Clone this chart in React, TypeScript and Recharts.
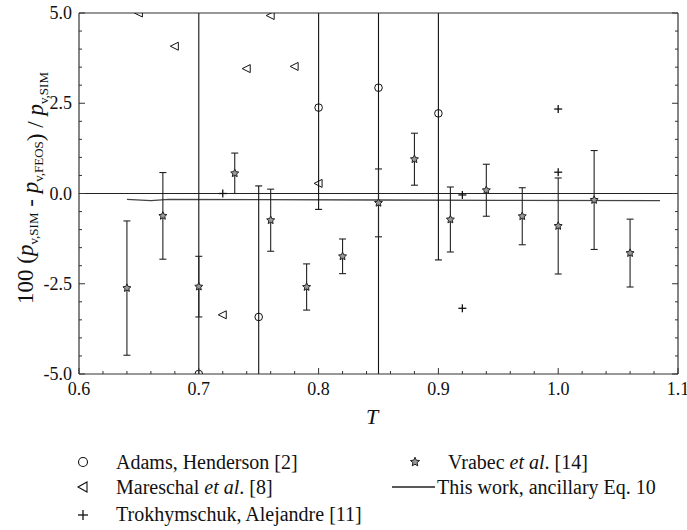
import React from "react";
import {
  ComposedChart,
  Scatter,
  Line,
  XAxis,
  YAxis,
  ErrorBar,
  ReferenceLine,
} from "recharts";

// ---- data ----
const adamsT = [0.7, 0.75, 0.8, 0.85, 0.9];
const adamsDev = [-5.0, -3.42, 2.38, 2.93, 2.22];
const adamsErr = [11, 3.63, 2.82, 9, 4.06];

const mareschalT = [0.65, 0.68, 0.72, 0.74, 0.76, 0.78, 0.8];
const mareschalDev = [5.0, 4.08, -3.36, 3.46, 4.93, 3.52, 0.28];

const trokhT = [0.72, 0.92, 0.92, 1.0, 1.0];
const trokhDev = [0.0, -0.04, -3.18, 2.34, 0.59];

const vrabecT = [0.64, 0.67, 0.7, 0.73, 0.76, 0.79, 0.82, 0.85, 0.88, 0.91, 0.94, 0.97, 1.0, 1.03, 1.06];
const vrabecDev = [-2.62, -0.62, -2.58, 0.56, -0.74, -2.59, -1.74, -0.26, 0.95, -0.72, 0.09, -0.63, -0.9, -0.18, -1.65];
const vrabecErr = [1.86, 1.2, 0.84, 0.56, 0.86, 0.64, 0.48, 0.94, 0.72, 0.9, 0.72, 0.79, 1.33, 1.37, 0.94];

const thisWorkT = [0.64, 0.66, 0.675, 0.75, 0.85, 0.95, 1.085];
const thisWorkDev = [-0.16, -0.2, -0.16, -0.17, -0.18, -0.19, -0.2];

const xTicks = [
  0.6, 0.62, 0.64, 0.66, 0.68, 0.7, 0.72, 0.74, 0.76, 0.78, 0.8, 0.82, 0.84,
  0.86, 0.88, 0.9, 0.92, 0.94, 0.96, 0.98, 1.0, 1.02, 1.04, 1.06, 1.08, 1.1,
];
const xMajorLabels = ["0.6", "0.7", "0.8", "0.9", "1.0", "1.1"];
const yTicks = [
  -5, -4.5, -4, -3.5, -3, -2.5, -2, -1.5, -1, -0.5, 0, 0.5, 1, 1.5, 2, 2.5, 3,
  3.5, 4, 4.5, 5,
];
const yMajorLabels = ["-5.0", "-2.5", "0.0", "2.5", "5.0"];

const adamsData = adamsT.map((x, i) => ({ x, y: adamsDev[i], err: adamsErr[i] }));
const mareschalData = mareschalT.map((x, i) => ({ x, y: mareschalDev[i] }));
const trokhData = trokhT.map((x, i) => ({ x, y: trokhDev[i] }));
const vrabecData = vrabecT.map((x, i) => ({ x, y: vrabecDev[i], err: vrabecErr[i] }));
const thisWorkData = thisWorkT.map((x, i) => ({ x, y: thisWorkDev[i] }));

const FONT = '"Liberation Serif", "Times New Roman", serif';
const FRAME = "#333";
const INK = "#111";

const PLOT = { left: 79, top: 13, right: 678, bottom: 374 };

const isXMajor = (v: number) => Math.abs(v * 10 - Math.round(v * 10)) < 1e-6;
const isYMajor = (v: number) => Math.abs(v / 2.5 - Math.round(v / 2.5)) < 1e-6;
const xLabel = (v: number) => xMajorLabels.find((s) => Math.abs(parseFloat(s) - v) < 1e-6) ?? "";
const yLabel = (v: number) => yMajorLabels.find((s) => Math.abs(parseFloat(s) - v) < 1e-6) ?? "";

const labelStyle = { fontFamily: FONT, fontSize: 18, fill: "#111" };

const BottomTick = (props: any) => {
  const { x, y, payload } = props;
  const v = payload.value;
  const major = isXMajor(v);
  return (
    <g>
      <line x1={x} x2={x} y1={y} y2={y - (major ? 6 : 3)} stroke={FRAME} strokeWidth={1} />
      {major && (
        <text x={x} y={y + 21} textAnchor="middle" style={labelStyle}>
          {xLabel(v)}
        </text>
      )}
    </g>
  );
};
const TopTick = (props: any) => {
  const { x, y, payload } = props;
  const major = isXMajor(payload.value);
  return <line x1={x} x2={x} y1={y} y2={y + (major ? 6 : 3)} stroke={FRAME} strokeWidth={1} />;
};
const LeftTick = (props: any) => {
  const { x, y, payload } = props;
  const v = payload.value;
  const major = isYMajor(v);
  return (
    <g>
      <line x1={x} x2={x + (major ? 6 : 3)} y1={y} y2={y} stroke={FRAME} strokeWidth={1} />
      {major && (
        <text x={x - 7} y={y + 6} textAnchor="end" style={labelStyle}>
          {yLabel(v)}
        </text>
      )}
    </g>
  );
};
const RightTick = (props: any) => {
  const { x, y, payload } = props;
  const major = isYMajor(payload.value);
  return <line x1={x} x2={x - (major ? 6 : 3)} y1={y} y2={y} stroke={FRAME} strokeWidth={1} />;
};

const CircleShape = (p: any) => (
  <circle cx={p.cx} cy={p.cy} r={3.8} fill="none" stroke={INK} strokeWidth={1} />
);
const TriShape = (p: any) => (
  <polygon
    points={`${p.cx - 4.5},${p.cy} ${p.cx + 3.5},${p.cy - 4} ${p.cx + 3.5},${p.cy + 4}`}
    fill="none"
    stroke={INK}
    strokeWidth={1}
  />
);
const PlusShape = (p: any) => (
  <g stroke={INK} strokeWidth={1.3}>
    <line x1={p.cx - 4} x2={p.cx + 4} y1={p.cy} y2={p.cy} />
    <line x1={p.cx} x2={p.cx} y1={p.cy - 4} y2={p.cy + 4} />
  </g>
);
const starPoints = (cx: number, cy: number, ro: number, ri: number) => {
  const pts: string[] = [];
  for (let k = 0; k < 10; k++) {
    const r = k % 2 === 0 ? ro : ri;
    const a = -Math.PI / 2 + (k * Math.PI) / 5;
    pts.push(`${cx + r * Math.cos(a)},${cy + r * Math.sin(a)}`);
  }
  return pts.join(" ");
};
const StarShape = (p: any) => (
  <polygon points={starPoints(p.cx, p.cy, 4.2, 2)} fill="#999" stroke="#222" strokeWidth={1} />
);

const Sub = ({ children }: { children: React.ReactNode }) => (
  <>
    <tspan fontSize={13} dy={5}>{children}</tspan>
    <tspan dy={-5}></tspan>
  </>
);

const css = `html,body{margin:0;padding:0;overflow:hidden;background:#fff}
.recharts-errorBar,.recharts-errorBars,.recharts-scatter,.recharts-line{clip-path:url(#plotClipArea)}`;

export default function App() {
  return (
    <div style={{ position: "relative", width: 687, height: 530, background: "#fff" }}>
      <style>{css}</style>
      <svg width={0} height={0} style={{ position: "absolute" }}>
        <defs>
          <clipPath id="plotClipArea" clipPathUnits="userSpaceOnUse">
            <rect
              x={PLOT.left}
              y={PLOT.top}
              width={PLOT.right - PLOT.left}
              height={PLOT.bottom - PLOT.top}
            />
          </clipPath>
        </defs>
      </svg>
      <ComposedChart width={687} height={530} margin={{ top: 12, right: 8, bottom: 155, left: 78 }}>
        <XAxis
          dataKey="x"
          type="number"
          domain={[0.6, 1.1]}
          allowDataOverflow
          ticks={xTicks}
          interval={0}
          height={1}
          tickLine={false}
          tickSize={0}
          tickMargin={0}
          tick={BottomTick}
          axisLine={{ stroke: FRAME, strokeWidth: 1.2 }}
        />
        <XAxis
          xAxisId="top"
          orientation="top"
          type="number"
          domain={[0.6, 1.1]}
          allowDataOverflow
          ticks={xTicks}
          interval={0}
          height={1}
          tickLine={false}
          tickSize={0}
          tickMargin={0}
          tick={TopTick}
          axisLine={{ stroke: FRAME, strokeWidth: 1.2 }}
        />
        <YAxis
          dataKey="y"
          type="number"
          domain={[-5, 5]}
          allowDataOverflow
          ticks={yTicks}
          interval={0}
          width={1}
          tickLine={false}
          tickSize={0}
          tickMargin={0}
          tick={LeftTick}
          axisLine={{ stroke: FRAME, strokeWidth: 1.2 }}
        />
        <YAxis
          yAxisId="right"
          orientation="right"
          type="number"
          domain={[-5, 5]}
          allowDataOverflow
          ticks={yTicks}
          interval={0}
          width={1}
          tickLine={false}
          tickSize={0}
          tickMargin={0}
          tick={RightTick}
          axisLine={{ stroke: FRAME, strokeWidth: 1.2 }}
        />
        <ReferenceLine y={0} stroke="#222" strokeWidth={1.2} />
        <Line
          data={thisWorkData}
          dataKey="y"
          stroke="#444"
          strokeWidth={1.3}
          dot={false}
          activeDot={false}
          isAnimationActive={false}
          type="linear"
        />
        <Scatter data={adamsData} dataKey="y" shape={CircleShape} isAnimationActive={false}>
          <ErrorBar dataKey="err" direction="y" width={3.5} stroke={INK} strokeWidth={1.1} />
        </Scatter>
        <Scatter data={vrabecData} dataKey="y" shape={StarShape} isAnimationActive={false}>
          <ErrorBar dataKey="err" direction="y" width={3.5} stroke="#222" strokeWidth={1.1} />
        </Scatter>
        <Scatter data={mareschalData} dataKey="y" shape={TriShape} isAnimationActive={false} />
        <Scatter data={trokhData} dataKey="y" shape={PlusShape} isAnimationActive={false} />
      </ComposedChart>
      <svg
        width={687}
        height={530}
        style={{ position: "absolute", left: 0, top: 0, pointerEvents: "none", fontFamily: FONT }}
      >
        <text
          x={33}
          y={188}
          transform="rotate(-90, 33, 188)"
          textAnchor="middle"
          fontSize={23}
          fill="#111"
        >
          <tspan>100 (</tspan>
          <tspan fontStyle="italic">p</tspan>
          <Sub>v,SIM</Sub>
          <tspan> - </tspan>
          <tspan fontStyle="italic">p</tspan>
          <Sub>v,FEOS</Sub>
          <tspan>) / </tspan>
          <tspan fontStyle="italic">p</tspan>
          <Sub>v,SIM</Sub>
        </text>
        <text x={372} y={424} textAnchor="middle" fontSize={22} fontStyle="italic" fill="#111">
          T
        </text>
        {/* legend */}
        <g fontSize={20} fill="#111">
          <circle cx={83} cy={462} r={4.5} fill="none" stroke={INK} strokeWidth={1.1} />
          <text x={116} y={469}>Adams, Henderson [2]</text>
          <polygon points="78,487 87,482 87,492" fill="none" stroke={INK} strokeWidth={1.1} />
          <text x={116} y={494}>
            Mareschal <tspan fontStyle="italic">et al</tspan>. [8]
          </text>
          <line x1={78} x2={88} y1={515} y2={515} stroke={INK} strokeWidth={1.3} />
          <line x1={83} x2={83} y1={510} y2={520} stroke={INK} strokeWidth={1.3} />
          <text x={116} y={521}>Trokhymschuk, Alejandre [11]</text>
          <polygon points={starPoints(415, 462, 4.8, 2.2)} fill="#999" stroke="#222" strokeWidth={1} />
          <text x={448} y={469}>
            Vrabec <tspan fontStyle="italic">et al</tspan>. [14]
          </text>
          <line x1={392} x2={435} y1={487} y2={487} stroke="#222" strokeWidth={1.3} />
          <text x={437} y={494}>This work, ancillary Eq. 10</text>
        </g>
      </svg>
    </div>
  );
}
